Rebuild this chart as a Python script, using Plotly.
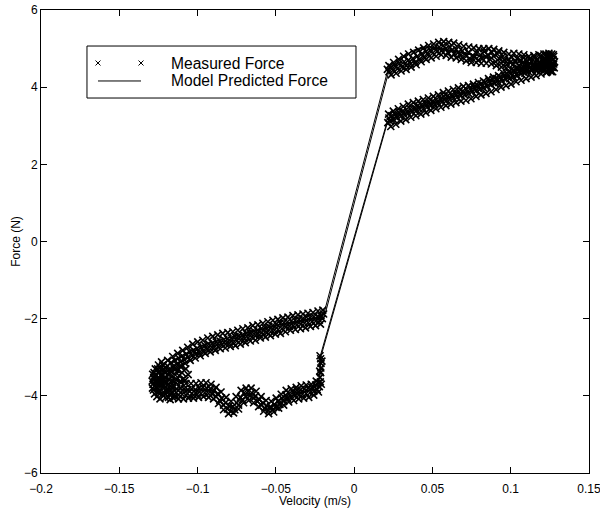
import plotly.graph_objects as go

# ---------------- measured force (N) vs velocity (m/s) ----------------
# upper-right branch (velocity decreasing from the positive peak)
ur_v = [0.1275, 0.1270, 0.1265, 0.1260, 0.1255, 0.1250, 0.1245, 0.1240, 0.1235, 0.1230,
        0.1222, 0.1215, 0.1208, 0.1200, 0.1192, 0.1185, 0.1176, 0.1168, 0.1160, 0.1150,
        0.1141, 0.1132, 0.1122, 0.1113, 0.1103, 0.1093, 0.1083, 0.1072, 0.1062, 0.1051,
        0.1040, 0.1029, 0.1018, 0.1007, 0.0996, 0.0985, 0.0973, 0.0962, 0.0950, 0.0939,
        0.0927, 0.0915, 0.0903, 0.0891, 0.0879, 0.0867, 0.0855, 0.0843, 0.0831, 0.0818,
        0.0806, 0.0794, 0.0781, 0.0768, 0.0756, 0.0743, 0.0730, 0.0717, 0.0704, 0.0691,
        0.0678, 0.0665, 0.0652, 0.0638, 0.0625, 0.0612, 0.0598, 0.0585, 0.0571, 0.0557,
        0.0543, 0.0529, 0.0515, 0.0501, 0.0487, 0.0473, 0.0459, 0.0445, 0.0431, 0.0417,
        0.0403, 0.0389, 0.0375, 0.0361, 0.0347, 0.0333, 0.0319, 0.0305, 0.0291, 0.0277,
        0.0263, 0.0249, 0.0235, 0.0222, 0.0212,
        0.1272, 0.1258, 0.1244, 0.1228, 0.1212, 0.1196, 0.1180, 0.1164, 0.1148, 0.1132,
        0.1116, 0.1100, 0.1084, 0.1068, 0.1052, 0.1036, 0.1020, 0.1004, 0.0988, 0.0972,
        0.0956, 0.0940, 0.0924, 0.0908, 0.0892, 0.0876, 0.0860, 0.0844, 0.0828, 0.0812,
        0.0796, 0.0780, 0.0764, 0.0748, 0.0732, 0.0716, 0.0700, 0.0684, 0.0668, 0.0652,
        0.0636, 0.0620, 0.0604, 0.0588, 0.0572, 0.0556, 0.0540, 0.0524, 0.0508, 0.0492,
        0.0476, 0.0460, 0.0444, 0.0428, 0.0412, 0.0396, 0.0380, 0.0364, 0.0348, 0.0332,
        0.0316, 0.0300, 0.0284, 0.0268, 0.0252, 0.0236, 0.0222]
ur_f = [4.60, 4.72, 4.52, 4.66, 4.78, 4.55, 4.70, 4.62, 4.80, 4.50,
        4.68, 4.74, 4.58, 4.70, 4.82, 4.60, 4.55, 4.72, 4.64, 4.78,
        4.56, 4.66, 4.74, 4.58, 4.68, 4.60, 4.76, 4.62, 4.70, 4.56,
        4.74, 4.66, 4.60, 4.78, 4.64, 4.72, 4.58, 4.70, 4.80, 4.62,
        4.74, 4.86, 4.66, 4.80, 4.90, 4.72, 4.84, 4.78, 4.92, 4.74,
        4.84, 4.70, 4.88, 4.78, 4.82, 4.72, 4.90, 4.80, 4.86, 4.94,
        4.82, 4.90, 4.98, 4.86, 4.96, 5.04, 4.90, 5.00, 5.08, 4.94,
        5.04, 4.92, 5.02, 4.88, 4.96, 4.84, 4.92, 4.78, 4.86, 4.72,
        4.80, 4.64, 4.74, 4.60, 4.70, 4.56, 4.66, 4.52, 4.62, 4.48,
        4.56, 4.44, 4.52, 4.40, 4.46,
        4.84, 4.42, 4.88, 4.38, 4.86, 4.44, 4.84, 4.42, 4.82, 4.44,
        4.80, 4.42, 4.84, 4.46, 4.86, 4.48, 4.88, 4.46, 4.86, 4.50,
        4.90, 4.52, 4.94, 4.56, 4.98, 4.60, 5.00, 4.62, 5.00, 4.62,
        5.00, 4.64, 5.02, 4.64, 5.04, 4.68, 5.06, 4.72, 5.10, 4.76,
        5.14, 4.78, 5.16, 4.82, 5.18, 4.84, 5.16, 4.80, 5.12, 4.76,
        5.08, 4.72, 5.02, 4.66, 4.96, 4.58, 4.90, 4.52, 4.86, 4.46,
        4.80, 4.42, 4.72, 4.36, 4.64, 4.32, 4.56]

# lower-right branch (velocity increasing towards the positive peak)
lr_v = [0.0215, 0.0222, 0.0230, 0.0240, 0.0251, 0.0262, 0.0274, 0.0286, 0.0298, 0.0310,
        0.0322, 0.0334, 0.0346, 0.0358, 0.0370, 0.0382, 0.0394, 0.0406, 0.0418, 0.0430,
        0.0442, 0.0454, 0.0466, 0.0478, 0.0490, 0.0502, 0.0514, 0.0526, 0.0538, 0.0550,
        0.0562, 0.0574, 0.0586, 0.0598, 0.0610, 0.0622, 0.0634, 0.0646, 0.0658, 0.0670,
        0.0682, 0.0694, 0.0706, 0.0718, 0.0730, 0.0742, 0.0754, 0.0766, 0.0778, 0.0790,
        0.0802, 0.0814, 0.0826, 0.0838, 0.0850, 0.0862, 0.0874, 0.0886, 0.0898, 0.0910,
        0.0922, 0.0934, 0.0946, 0.0958, 0.0970, 0.0982, 0.0994, 0.1006, 0.1018, 0.1030,
        0.1042, 0.1054, 0.1066, 0.1078, 0.1090, 0.1102, 0.1114, 0.1126, 0.1138, 0.1150,
        0.1160, 0.1170, 0.1180, 0.1190, 0.1200, 0.1210, 0.1220, 0.1230, 0.1240, 0.1250,
        0.1260, 0.1268,
        0.0220, 0.0234, 0.0250, 0.0266, 0.0282, 0.0298, 0.0314, 0.0330, 0.0346, 0.0362,
        0.0378, 0.0394, 0.0410, 0.0426, 0.0442, 0.0458, 0.0474, 0.0490, 0.0506, 0.0522,
        0.0538, 0.0554, 0.0570, 0.0586, 0.0602, 0.0618, 0.0634, 0.0650, 0.0666, 0.0682,
        0.0698, 0.0714, 0.0730, 0.0746, 0.0762, 0.0778, 0.0794, 0.0810, 0.0826, 0.0842,
        0.0858, 0.0874, 0.0890, 0.0906, 0.0922, 0.0938, 0.0954, 0.0970, 0.0986, 0.1002,
        0.1018, 0.1034, 0.1050, 0.1066, 0.1082, 0.1098, 0.1114, 0.1130, 0.1146, 0.1162,
        0.1178, 0.1194, 0.1210, 0.1226, 0.1242, 0.1258]
lr_f = [3.08, 3.20, 3.12, 3.26, 3.16, 3.30, 3.20, 3.34, 3.24, 3.38,
        3.28, 3.42, 3.32, 3.44, 3.36, 3.48, 3.38, 3.52, 3.42, 3.54,
        3.44, 3.58, 3.48, 3.62, 3.52, 3.64, 3.54, 3.68, 3.58, 3.70,
        3.62, 3.76, 3.64, 3.78, 3.68, 3.80, 3.72, 3.84, 3.74, 3.88,
        3.78, 3.90, 3.80, 3.94, 3.84, 3.96, 3.88, 4.00, 3.90, 4.04,
        3.94, 4.08, 3.98, 4.12, 4.02, 4.16, 4.06, 4.20, 4.10, 4.22,
        4.12, 4.26, 4.16, 4.30, 4.20, 4.32, 4.22, 4.36, 4.26, 4.40,
        4.30, 4.42, 4.34, 4.46, 4.36, 4.48, 4.40, 4.52, 4.44, 4.54,
        4.46, 4.58, 4.48, 4.60, 4.50, 4.62, 4.52, 4.64, 4.56, 4.48,
        4.60, 4.52,
        3.30, 2.98, 3.38, 3.04, 3.44, 3.12, 3.50, 3.16, 3.56, 3.22,
        3.60, 3.26, 3.64, 3.30, 3.68, 3.34, 3.72, 3.40, 3.76, 3.44,
        3.80, 3.48, 3.86, 3.52, 3.90, 3.56, 3.94, 3.60, 3.98, 3.64,
        4.02, 3.66, 4.04, 3.70, 4.08, 3.76, 4.12, 3.80, 4.16, 3.84,
        4.22, 3.88, 4.26, 3.94, 4.30, 4.00, 4.36, 4.04, 4.40, 4.08,
        4.44, 4.14, 4.48, 4.18, 4.52, 4.22, 4.56, 4.26, 4.60, 4.30,
        4.64, 4.34, 4.68, 4.38, 4.72, 4.40]

# extra samples around the positive velocity peak
tip_pos_v = [0.1280, 0.1278, 0.1275, 0.1268, 0.1262, 0.1255, 0.1245, 0.1235, 0.1225, 0.1215]
tip_pos_f = [4.66, 4.50, 4.80, 4.40, 4.86, 4.44, 4.84, 4.40, 4.86, 4.45]

# upper-left branch (velocity decreasing towards the negative peak)
ul_v = [-0.0195, -0.0203, -0.0212, -0.0222, -0.0233, -0.0245, -0.0257, -0.0269, -0.0281, -0.0293,
        -0.0305, -0.0317, -0.0329, -0.0341, -0.0353, -0.0365, -0.0377, -0.0389, -0.0401, -0.0413,
        -0.0425, -0.0437, -0.0449, -0.0461, -0.0473, -0.0485, -0.0497, -0.0509, -0.0521, -0.0533,
        -0.0545, -0.0557, -0.0569, -0.0581, -0.0593, -0.0605, -0.0617, -0.0629, -0.0641, -0.0653,
        -0.0665, -0.0677, -0.0689, -0.0701, -0.0713, -0.0725, -0.0737, -0.0749, -0.0761, -0.0773,
        -0.0785, -0.0797, -0.0809, -0.0821, -0.0833, -0.0845, -0.0857, -0.0869, -0.0881, -0.0893,
        -0.0905, -0.0917, -0.0929, -0.0941, -0.0953, -0.0965, -0.0977, -0.0989, -0.1001, -0.1013,
        -0.1025, -0.1037, -0.1049, -0.1061, -0.1073, -0.1085, -0.1097, -0.1109, -0.1121, -0.1133,
        -0.1145, -0.1157, -0.1169, -0.1181, -0.1193, -0.1205, -0.1217, -0.1229, -0.1241, -0.1253,
        -0.1263, -0.1272, -0.1280,
        -0.0200, -0.0215, -0.0231, -0.0247, -0.0263, -0.0279, -0.0295, -0.0311, -0.0327, -0.0343,
        -0.0359, -0.0375, -0.0391, -0.0407, -0.0423, -0.0439, -0.0455, -0.0471, -0.0487, -0.0503,
        -0.0519, -0.0535, -0.0551, -0.0567, -0.0583, -0.0599, -0.0615, -0.0631, -0.0647, -0.0663,
        -0.0679, -0.0695, -0.0711, -0.0727, -0.0743, -0.0759, -0.0775, -0.0791, -0.0807, -0.0823,
        -0.0839, -0.0855, -0.0871, -0.0887, -0.0903, -0.0919, -0.0935, -0.0951, -0.0967, -0.0983,
        -0.0999, -0.1015, -0.1031, -0.1047, -0.1063, -0.1079, -0.1095, -0.1111, -0.1127, -0.1143,
        -0.1159, -0.1175, -0.1191, -0.1207, -0.1223, -0.1239, -0.1255, -0.1271, -0.1287]
ul_f = [-1.88, -2.00, -1.92, -2.04, -1.94, -2.06, -1.95, -2.08, -1.98, -2.10,
        -1.96, -2.12, -2.00, -2.14, -2.02, -2.16, -2.04, -2.18, -2.06, -2.20,
        -2.08, -2.22, -2.10, -2.26, -2.12, -2.28, -2.14, -2.30, -2.18, -2.34,
        -2.20, -2.36, -2.24, -2.40, -2.26, -2.42, -2.30, -2.44, -2.32, -2.48,
        -2.36, -2.50, -2.38, -2.52, -2.42, -2.56, -2.44, -2.58, -2.46, -2.62,
        -2.50, -2.64, -2.52, -2.66, -2.54, -2.68, -2.58, -2.72, -2.60, -2.74,
        -2.64, -2.78, -2.66, -2.80, -2.70, -2.84, -2.74, -2.88, -2.78, -2.92,
        -2.82, -2.96, -2.86, -3.00, -2.92, -3.06, -2.96, -3.12, -3.02, -3.18,
        -3.08, -3.24, -3.14, -3.32, -3.22, -3.40, -3.30, -3.48, -3.38, -3.56,
        -3.46, -3.62, -3.52,
        -1.78, -2.14, -1.80, -2.18, -1.84, -2.20, -1.86, -2.24, -1.88, -2.26,
        -1.90, -2.28, -1.92, -2.30, -1.96, -2.34, -1.98, -2.38, -2.02, -2.40,
        -2.04, -2.44, -2.08, -2.48, -2.12, -2.50, -2.16, -2.56, -2.18, -2.58,
        -2.24, -2.62, -2.26, -2.66, -2.30, -2.70, -2.34, -2.72, -2.36, -2.76,
        -2.38, -2.78, -2.42, -2.82, -2.46, -2.86, -2.50, -2.90, -2.56, -2.96,
        -2.60, -3.02, -2.66, -3.08, -2.74, -3.16, -2.82, -3.24, -2.90, -3.32,
        -2.98, -3.42, -3.08, -3.52, -3.20, -3.62, -3.30, -3.74, -3.44]

# extra samples around the negative velocity peak (the dense turning region)
tip_neg_v = [-0.1285, -0.1282, -0.1278, -0.1275, -0.1270, -0.1265, -0.1260, -0.1255, -0.1248, -0.1240,
             -0.1232, -0.1225, -0.1215, -0.1205, -0.1195, -0.1185, -0.1175, -0.1165, -0.1155, -0.1145,
             -0.1250, -0.1240, -0.1230, -0.1220,
             -0.1290, -0.1288, -0.1280, -0.1270, -0.1262, -0.1254, -0.1246, -0.1238, -0.1230, -0.1222,
             -0.1214, -0.1206, -0.1198, -0.1190, -0.1182, -0.1174, -0.1166, -0.1158, -0.1150, -0.1142,
             -0.1134, -0.1126, -0.1118, -0.1110, -0.1105, -0.1100, -0.1090, -0.1080, -0.1075, -0.1060]
tip_neg_f = [-3.70, -3.85, -3.40, -3.95, -3.30, -3.78, -4.02, -3.62, -3.90, -4.08,
             -3.70, -3.96, -3.60, -4.05, -3.88, -3.70, -4.10, -3.92, -3.74, -4.02,
             -3.20, -3.28, -3.12, -3.22,
             -3.62, -3.80, -3.55, -3.48, -3.62, -3.40, -3.56, -3.70, -3.46, -3.60,
             -3.38, -3.52, -3.66, -3.44, -3.58, -3.36, -3.50, -3.62, -3.30, -3.46,
             -3.58, -3.34, -3.48, -3.62, -3.22, -3.40, -3.55, -3.60, -3.30, -3.45]

# lower-left branch (velocity increasing from the negative peak)
ll_v = [-0.1270, -0.1262, -0.1252, -0.1242, -0.1230, -0.1218, -0.1206, -0.1194, -0.1182, -0.1170,
        -0.1158, -0.1146, -0.1134, -0.1122, -0.1110, -0.1098, -0.1086, -0.1074, -0.1062, -0.1050,
        -0.1038, -0.1026, -0.1014, -0.1002, -0.0990, -0.0978, -0.0966, -0.0954, -0.0942, -0.0930,
        -0.0918, -0.0906, -0.0894, -0.0882, -0.0870, -0.0858, -0.0846, -0.0834, -0.0822, -0.0810,
        -0.0798, -0.0786, -0.0774, -0.0762, -0.0750, -0.0738, -0.0726, -0.0714, -0.0702, -0.0690,
        -0.0678, -0.0666, -0.0654, -0.0642, -0.0630, -0.0618, -0.0606, -0.0594, -0.0582, -0.0570,
        -0.0558, -0.0546, -0.0534, -0.0522, -0.0510, -0.0498, -0.0486, -0.0474, -0.0462, -0.0450,
        -0.0438, -0.0426, -0.0414, -0.0402, -0.0390, -0.0378, -0.0366, -0.0354, -0.0342, -0.0330,
        -0.0318, -0.0306, -0.0294, -0.0282, -0.0270, -0.0258, -0.0246, -0.0236, -0.0228, -0.0222,
        -0.0218, -0.0216, -0.0214, -0.0213, -0.0212, -0.0214,
        -0.1266, -0.1250, -0.1234, -0.1218, -0.1202, -0.1186, -0.1170, -0.1154, -0.1138, -0.1122,
        -0.1106, -0.1090, -0.1074, -0.1058, -0.1042, -0.1026, -0.1010, -0.0994, -0.0978, -0.0962,
        -0.0946, -0.0930, -0.0914, -0.0898, -0.0882, -0.0866, -0.0850, -0.0834, -0.0818, -0.0802,
        -0.0786, -0.0770, -0.0754, -0.0738, -0.0722, -0.0706, -0.0690, -0.0674, -0.0658, -0.0642,
        -0.0626, -0.0610, -0.0594, -0.0578, -0.0562, -0.0546, -0.0530, -0.0514, -0.0498, -0.0482,
        -0.0466, -0.0450, -0.0434, -0.0418, -0.0402, -0.0386, -0.0370, -0.0354, -0.0338, -0.0322,
        -0.0306, -0.0290, -0.0274, -0.0258, -0.0242, -0.0228, -0.0220, -0.0210, -0.0206, -0.0218]
ll_f = [-3.62, -3.78, -3.70, -3.86, -3.74, -3.90, -3.76, -3.92, -3.78, -3.94,
        -3.80, -3.96, -3.82, -3.98, -3.80, -3.96, -3.82, -3.98, -3.84, -4.00,
        -3.82, -3.98, -3.84, -3.96, -3.80, -3.94, -3.78, -3.92, -3.80, -3.94,
        -3.82, -3.96, -3.86, -4.02, -3.94, -4.12, -4.06, -4.24, -4.18, -4.34,
        -4.26, -4.40, -4.28, -4.36, -4.18, -4.24, -4.04, -4.10, -3.92, -4.02,
        -3.88, -4.00, -3.92, -4.06, -4.00, -4.14, -4.10, -4.24, -4.18, -4.32,
        -4.26, -4.38, -4.28, -4.36, -4.22, -4.30, -4.14, -4.22, -4.06, -4.14,
        -3.98, -4.08, -3.94, -4.04, -3.90, -4.00, -3.86, -3.98, -3.84, -3.96,
        -3.82, -3.94, -3.80, -3.92, -3.78, -3.88, -3.72, -3.84, -3.66, -3.76,
        -3.52, -3.64, -3.40, -3.28, -3.16, -3.04,
        -3.46, -3.92, -3.58, -4.00, -3.62, -4.04, -3.64, -4.06, -3.66, -4.08,
        -3.66, -4.08, -3.68, -4.06, -3.68, -4.06, -3.68, -4.04, -3.66, -4.02,
        -3.66, -4.04, -3.70, -4.08, -3.78, -4.20, -3.90, -4.36, -4.04, -4.46,
        -4.14, -4.44, -4.02, -4.34, -3.86, -4.18, -3.80, -4.12, -3.80, -4.18,
        -3.88, -4.28, -4.02, -4.40, -4.12, -4.46, -4.14, -4.42, -4.06, -4.32,
        -3.96, -4.24, -3.86, -4.16, -3.82, -4.12, -3.78, -4.08, -3.74, -4.06,
        -3.72, -4.04, -3.70, -3.98, -3.62, -3.90, -3.36, -3.70, -3.10, -2.96]

# ---------------- model predicted force, two cycles ----------------
model1_v = [0.1255, 0.1230, 0.1200, 0.1160, 0.1120, 0.1080, 0.1040, 0.1000, 0.0960, 0.0930,
            0.0905, 0.0880, 0.0850, 0.0810, 0.0770, 0.0730, 0.0690, 0.0650, 0.0610, 0.0570,
            0.0530, 0.0490, 0.0450, 0.0410, 0.0370, 0.0330, 0.0290, 0.0250, 0.0215,
            -0.0195, -0.0230, -0.0280, -0.0340, -0.0400, -0.0460, -0.0520, -0.0580, -0.0640, -0.0700,
            -0.0760, -0.0820, -0.0880, -0.0940, -0.1000, -0.1050, -0.1100, -0.1150, -0.1200, -0.1240,
            -0.1260, -0.1250, -0.1220, -0.1180, -0.1130, -0.1080, -0.1030, -0.0980, -0.0930, -0.0890,
            -0.0850, -0.0810, -0.0780, -0.0750, -0.0720, -0.0690, -0.0660, -0.0620, -0.0580, -0.0540,
            -0.0500, -0.0460, -0.0420, -0.0380, -0.0340, -0.0300, -0.0260, -0.0235, -0.0220, -0.0215,
            -0.0215,
            0.0210, 0.0260, 0.0320, 0.0400, 0.0480, 0.0560, 0.0640, 0.0720, 0.0800, 0.0880,
            0.0960, 0.1040, 0.1120, 0.1180, 0.1230, 0.1255]
model1_f = [4.62, 4.68, 4.64, 4.60, 4.62, 4.66, 4.62, 4.66, 4.62, 4.78,
            4.66, 4.76, 4.80, 4.82, 4.84, 4.86, 4.90, 4.94, 4.96, 4.98,
            5.00, 5.02, 5.02, 4.98, 4.92, 4.82, 4.68, 4.54, 4.44,
            -1.90, -1.98, -2.02, -2.06, -2.10, -2.14, -2.20, -2.27, -2.34, -2.40,
            -2.46, -2.52, -2.58, -2.65, -2.74, -2.84, -2.96, -3.08, -3.25, -3.45,
            -3.62, -3.74, -3.80, -3.82, -3.84, -3.86, -3.86, -3.84, -3.84, -3.90,
            -4.04, -4.22, -4.28, -4.18, -4.02, -3.94, -3.96, -4.06, -4.20, -4.28,
            -4.24, -4.12, -4.02, -3.96, -3.92, -3.88, -3.82, -3.72, -3.52, -3.20,
            -2.95,
            3.10, 3.22, 3.32, 3.44, 3.56, 3.66, 3.76, 3.86, 3.96, 4.08,
            4.20, 4.32, 4.42, 4.50, 4.56, 4.62]

model2_v = [0.1250, 0.1220, 0.1180, 0.1140, 0.1100, 0.1060, 0.1020, 0.0980, 0.0945, 0.0915,
            0.0890, 0.0860, 0.0820, 0.0780, 0.0740, 0.0700, 0.0660, 0.0620, 0.0580, 0.0540,
            0.0500, 0.0460, 0.0420, 0.0380, 0.0340, 0.0300, 0.0260, 0.0225,
            -0.0185, -0.0220, -0.0270, -0.0330, -0.0390, -0.0450, -0.0510, -0.0570, -0.0630, -0.0690,
            -0.0750, -0.0810, -0.0870, -0.0930, -0.0990, -0.1040, -0.1090, -0.1140, -0.1190, -0.1230,
            -0.1255, -0.1245, -0.1210, -0.1170, -0.1120, -0.1070, -0.1020, -0.0970, -0.0920, -0.0880,
            -0.0840, -0.0800, -0.0770, -0.0740, -0.0710, -0.0680, -0.0650, -0.0610, -0.0570, -0.0530,
            -0.0490, -0.0450, -0.0410, -0.0370, -0.0330, -0.0290, -0.0255, -0.0230, -0.0218, -0.0212,
            -0.0212,
            0.0215, 0.0270, 0.0330, 0.0410, 0.0490, 0.0570, 0.0650, 0.0730, 0.0810, 0.0890,
            0.0970, 0.1050, 0.1130, 0.1190, 0.1235, 0.1250]
model2_f = [4.66, 4.70, 4.62, 4.58, 4.64, 4.70, 4.64, 4.60, 4.74, 4.62,
            4.72, 4.78, 4.80, 4.82, 4.85, 4.88, 4.92, 4.95, 4.98, 5.02,
            5.04, 5.05, 5.02, 4.96, 4.86, 4.72, 4.58, 4.47,
            -1.88, -1.96, -2.00, -2.04, -2.08, -2.12, -2.18, -2.25, -2.32, -2.38,
            -2.44, -2.50, -2.56, -2.63, -2.72, -2.82, -2.94, -3.06, -3.22, -3.42,
            -3.60, -3.72, -3.78, -3.80, -3.82, -3.84, -3.85, -3.82, -3.86, -3.94,
            -4.10, -4.26, -4.26, -4.12, -3.98, -3.92, -3.98, -4.10, -4.24, -4.30,
            -4.22, -4.08, -4.00, -3.94, -3.90, -3.86, -3.80, -3.68, -3.45, -3.15,
            -2.98,
            3.12, 3.25, 3.35, 3.47, 3.58, 3.68, 3.78, 3.88, 3.98, 4.10,
            4.22, 4.34, 4.44, 4.52, 4.60, 4.66]

# ---------------- axis ticks ----------------
x_ticks = [-0.2, -0.15, -0.1, -0.05, 0, 0.05, 0.1, 0.15]
x_ticktext = ["\u22120.2", "\u22120.15", "\u22120.1", "\u22120.05", "0", "0.05", "0.1", "0.15"]
y_ticks = [-6, -4, -2, 0, 2, 4, 6]
y_ticktext = ["\u22126", "\u22124", "\u22122", "0", "2", "4", "6"]

legend_labels = ["Measured Force", "Model Predicted Force"]

FONT = "Liberation Sans, Arial, Helvetica, sans-serif"
data_marker = dict(symbol="x-thin", size=7, color="black", line=dict(width=1.6, color="black"))
key_marker = dict(symbol="x-thin", size=5, color="black", line=dict(width=1, color="black"))

meas_v = ur_v + lr_v + tip_pos_v + ul_v + tip_neg_v + ll_v
meas_f = ur_f + lr_f + tip_pos_f + ul_f + tip_neg_f + ll_f

fig = go.Figure()
fig.add_trace(go.Scatter(x=meas_v, y=meas_f, mode="markers", marker=data_marker,
                         showlegend=False, hoverinfo="skip"))
for mv, mf in ((model1_v, model1_f), (model2_v, model2_f)):
    fig.add_trace(go.Scatter(x=mv, y=mf, mode="lines", line=dict(color="black", width=1),
                             showlegend=False, hoverinfo="skip"))

# legend keys drawn on a hidden unit overlay axis
key_x = [0.104, 0.1825]
key_y = [0.8855, 0.8467]
fig.add_trace(go.Scatter(x=key_x, y=[key_y[0], key_y[0]], mode="markers", marker=key_marker,
                         xaxis="x2", yaxis="y2", showlegend=False, hoverinfo="skip"))
fig.add_trace(go.Scatter(x=key_x, y=[key_y[1], key_y[1]], mode="lines",
                         line=dict(color="black", width=1),
                         xaxis="x2", yaxis="y2", showlegend=False, hoverinfo="skip"))

axis_common = dict(showline=True, linecolor="black", linewidth=1, mirror="ticks",
                   ticks="inside", ticklen=6, tickwidth=1, tickcolor="black",
                   showgrid=False, zeroline=False, automargin=False,
                   ticklabeloverflow="allow",
                   tickfont=dict(family=FONT, size=12, color="black"))

fig.update_layout(
    width=600, height=508,
    margin=dict(l=41, r=11, t=10, b=35),
    paper_bgcolor="white", plot_bgcolor="white",
    font=dict(family=FONT, size=12, color="black"),
    xaxis=dict(range=[-0.2, 0.15], tickvals=x_ticks, ticktext=x_ticktext,
               ticklabelstandoff=5,
               title=dict(text="Velocity (m/s)", standoff=0,
                          font=dict(family=FONT, size=12)), **axis_common),
    yaxis=dict(range=[-6, 6], tickvals=y_ticks, ticktext=y_ticktext,
               title=dict(text="Force (N)", standoff=0,
                          font=dict(family=FONT, size=12)), **axis_common),
    xaxis2=dict(overlaying="x", anchor="y2", range=[0, 1], visible=False, fixedrange=True),
    yaxis2=dict(overlaying="y", anchor="x2", range=[0, 1], visible=False, fixedrange=True),
    shapes=[dict(type="rect", xref="paper", yref="paper", x0=0.0839, x1=0.5748,
                 y0=0.8099, y1=0.9222, line=dict(color="black", width=1),
                 fillcolor="white", layer="below")],
    annotations=[dict(x=0.2336, y=yy, xref="paper", yref="paper", text=t, showarrow=False,
                      xanchor="left", yanchor="middle",
                      font=dict(family=FONT, size=15.6, color="black"))
                 for t, yy in zip(legend_labels, key_y)],
    showlegend=False,
)

fig.write_html("out.html")
